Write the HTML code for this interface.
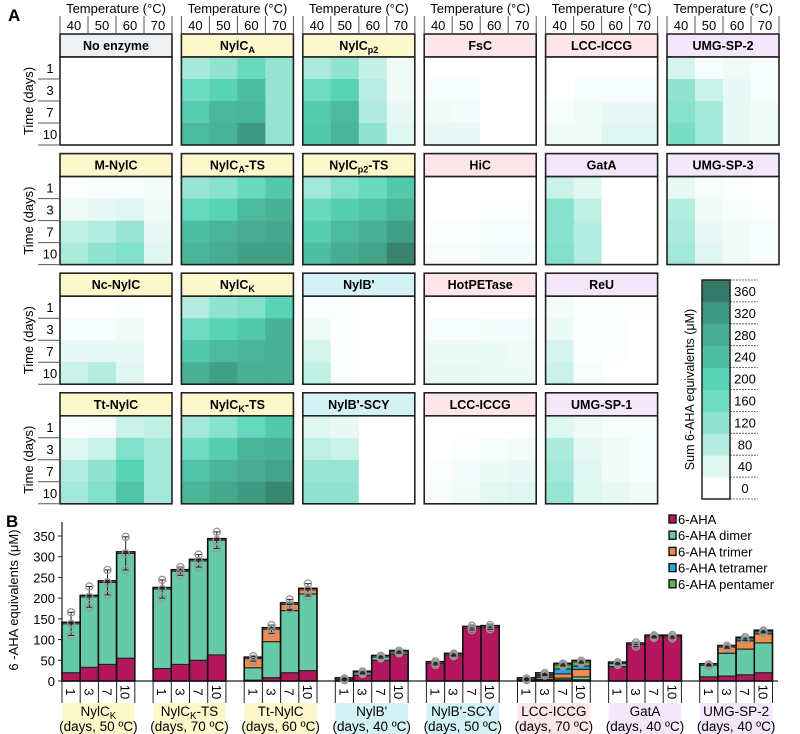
<!DOCTYPE html>
<html><head><meta charset="utf-8">
<style>
html,body{margin:0;padding:0;background:#fff;}
svg{display:block;font-family:"Liberation Sans",Arial,sans-serif;}
</style></head>
<body>
<svg id="fig" width="800" height="734" viewBox="0 0 800 734" xmlns="http://www.w3.org/2000/svg">
<text x="8" y="21" font-size="17" font-weight="bold">A</text>
<text x="6" y="527" font-size="17" font-weight="bold">B</text>
</svg>
<script>
// ---------- Heatmap data ----------
const temps = ["40","50","60","70"];
const days = ["1","3","7","10"];
const panelNames = [
 ["No enzyme","",""],["NylC","A",""],["NylC","p2",""],["FsC","",""],["LCC-ICCG","",""],["UMG-SP-2","",""],
 ["M-NylC","",""],["NylC","A","-TS"],["NylC","p2","-TS"],["HiC","",""],["GatA","",""],["UMG-SP-3","",""],
 ["Nc-NylC","",""],["NylC","K",""],["NylB'","",""],["HotPETase","",""],["ReU","",""],
 ["Tt-NylC","",""],["NylC","K","-TS"],["NylB'-SCY","",""],["LCC-ICCG","",""],["UMG-SP-1","",""]
];
const panelRow = [0,0,0,0,0,0, 1,1,1,1,1,1, 2,2,2,2,2, 3,3,3,3,3];
const panelCol = [0,1,2,3,4,5, 0,1,2,3,4,5, 0,1,2,3,4, 0,1,2,3,4];
const panelGroup = ["grey","yellow","yellow","pink","pink","purple",
 "yellow","yellow","yellow","pink","purple","purple",
 "yellow","yellow","cyan","pink","purple",
 "yellow","yellow","cyan","pink","purple"];
const panelValues = [
 [[0,0,0,0],[0,0,0,0],[0,0,0,0],[0,0,0,0]],
 [[95,120,170,115],[165,200,245,115],[210,255,260,115],[250,265,320,115]],
 [[90,120,65,20],[160,200,75,20],[215,250,85,30],[220,260,120,40]],
 [[0,0,0,0],[10,10,0,0],[20,15,0,0],[30,30,0,0]],
 [[0,0,0,0],[0,10,10,10],[10,20,30,30],[20,20,40,40]],
 [[50,10,20,10],[120,60,30,10],[130,100,30,20],[150,100,30,20]],
 [[5,10,10,15],[20,30,40,20],[70,80,110,30],[90,120,140,40]],
 [[110,130,170,220],[180,200,250,270],[240,260,280,290],[260,280,310,310]],
 [[100,140,170,220],[170,210,230,260],[210,250,270,310],[240,280,300,350]],
 [[0,0,0,0],[0,0,5,5],[5,5,10,10],[10,10,15,15]],
 [[60,40,0,0],[130,70,0,0],[130,80,0,0],[140,80,0,0]],
 [[30,10,5,0],[80,20,10,5],[90,30,20,10],[100,40,20,10]],
 [[0,0,5,0],[10,10,20,0],[30,30,30,0],[60,80,40,0]],
 [[80,120,140,200],[160,200,220,270],[220,250,260,270],[270,310,270,270]],
 [[5,5,0,0],[20,5,0,0],[50,5,0,0],[70,5,0,0]],
 [[0,0,0,0],[10,10,15,15],[25,25,25,20],[30,30,25,25]],
 [[15,5,5,5],[25,5,5,0],[50,5,5,0],[60,10,0,0]],
 [[5,10,60,70],[40,60,140,100],[80,120,200,100],[100,140,230,100]],
 [[100,130,180,220],[160,210,260,270],[230,260,280,300],[260,290,320,345]],
 [[40,30,0,0],[70,60,0,0],[110,110,0,0],[120,120,0,0]],
 [[0,0,0,0],[0,5,10,15],[5,15,25,30],[10,20,35,40]],
 [[40,20,10,10],[90,30,20,10],[100,40,20,10],[110,40,30,20]]
];
const cbTicks = [0,40,80,120,160,200,240,280,320,360];
const cbColors = ["#ffffff","#e0f7f1","#b5ece0","#90e3cf","#6fdcc2","#57d3b6","#4dbfa0","#47ac90","#3f9a81","#357a68"];

// ---------- Bar chart data ----------
const groupLabels = [["NylC","K","","(days, 50 ºC)"],["NylC","K","-TS","(days, 70 ºC)"],["Tt-NylC","","","(days, 60 ºC)"],["NylB'","","","(days, 40 ºC)"],["NylB'-SCY","","","(days, 50 ºC)"],["LCC-ICCG","","","(days, 70 ºC)"],["GatA","","","(days, 40 ºC)"],["UMG-SP-2","","","(days, 40 ºC)"]];
const groupColor = ["yellow","yellow","yellow","cyan","cyan","pink","purple","purple"];
const barDays = ["1","3","7","10"];
const ahaVals      = [[20,33,40,55],[30,40,50,63],[2,8,20,25],[4,14,50,65],[43,63,128,130],[2,2,3,3],[35,88,107,107],[10,12,15,20]];
const dimerVals    = [[118,170,198,253],[192,225,240,277],[30,87,150,185],[0,6,8,5],[0,0,0,0],[1,2,4,7],[7,0,0,0],[28,55,62,72]];
const trimerVals   = [[0,0,0,0],[0,0,0,0],[22,30,15,10],[0,0,0,0],[0,0,0,0],[1,5,10,18],[0,0,0,0],[0,15,20,22]];
const tetramerVals = [[0,0,0,0],[0,0,0,0],[0,0,0,0],[0,0,0,0],[0,0,0,0],[0,4,12,8],[0,0,0,0],[0,0,5,5]];
const pentamerVals = [[0,0,0,0],[0,0,0,0],[0,0,0,0],[0,0,0,0],[0,0,0,0],[0,3,10,10],[0,0,0,0],[0,0,0,0]];
const errVals      = [[28,25,30,40],[22,10,15,20],[6,10,12,15],[2,3,3,3],[4,3,5,5],[2,3,3,3],[3,5,3,4],[2,3,4,3]];
const seriesNames = ["6-AHA","6-AHA dimer","6-AHA trimer","6-AHA tetramer","6-AHA pentamer"];
const seriesColors = ["#b5175e","#66c9a8","#f58a4b","#22a7e0","#6ab04c"];
const yTicks = [0,50,100,150,200,250,300,350];

const hdrFill = {grey:"#eef1f3",yellow:"#fdf8cc",pink:"#fde6ea",purple:"#f4e7fb",cyan:"#d3f2f7"};
const NS = "http://www.w3.org/2000/svg";
const svg = document.getElementById("fig");
function mk(tag, attrs, parent){const e=document.createElementNS(NS,tag);for(const k in attrs)e.setAttribute(k,attrs[k]);(parent||svg).appendChild(e);return e;}
function hex2rgb(h){return [parseInt(h.slice(1,3),16),parseInt(h.slice(3,5),16),parseInt(h.slice(5,7),16)];}
function colorFor(v){
  const t=Math.max(0,Math.min(360,v))/40;const i=Math.min(8,Math.floor(t));const f=t-i;
  const a=hex2rgb(cbColors[i]),b=hex2rgb(cbColors[i+1]);
  return "rgb("+a.map((x,k)=>Math.round(x+(b[k]-x)*f)).join(",")+")";
}
function labelText(parent, x, y, parts, size, weight, anchor){
  const t=mk("text",{x:x,y:y,"font-size":size,"font-weight":weight,"text-anchor":anchor||"middle"},parent);
  t.appendChild(document.createTextNode(parts[0]));
  if(parts[1]){const s=mk("tspan",{"font-size":size*0.72,dy:3},t);s.textContent=parts[1];}
  if(parts[2]){const s=mk("tspan",{dy:-3},t);s.textContent=parts[2];}
  return t;
}

// ---------- Heatmap panels ----------
const colX = c=>60+c*121.4;
const rowY = r=>34+r*119.6;
const cellW=28, cellH=22, hdrH=23;
panelNames.forEach((nm,p)=>{
  const r=panelRow[p], c=panelCol[p];
  const x0=colX(c), y0=rowY(r);
  const g=mk("g",{});
  
  
  const hdr=mk("rect",{x:x0,y:y0,width:cellW*4,height:hdrH,fill:hdrFill[panelGroup[p]],stroke:"#222","stroke-width":1.6},g);
  
  
  const ht=labelText(g,x0+cellW*2,y0+16,nm,12.5,"bold");
  
  
  panelValues[p].forEach((row,ri)=>row.forEach((v,ci)=>{
    const cell=mk("rect",{x:x0+ci*cellW,y:y0+hdrH+ri*cellH,width:cellW+0.5,height:cellH+0.5,fill:colorFor(v)},g);
    
    
  }));
  const fr=mk("rect",{x:x0,y:y0+hdrH,width:cellW*4,height:cellH*4,fill:"none",stroke:"#222","stroke-width":1.6},g);
  
  
  if(r===0){
    const tt=mk("text",{x:x0+cellW*2,y:13,"font-size":13,"text-anchor":"middle"},g);
    tt.textContent="Temperature (°C)";
    
    
    for(let k=0;k<=4;k++){
      const l=mk("line",{x1:x0+k*cellW,y1:16,x2:x0+k*cellW,y2:y0,stroke:"#555","stroke-width":1},g);
      
      
    }
    temps.forEach((t,k)=>{
      const tl=mk("text",{x:x0+k*cellW+cellW/2,y:30,"font-size":13,"text-anchor":"middle"},g);
      tl.textContent=t;
      
      
    });
  }
  if(c===0){
    const yt=mk("text",{x:0,y:0,"font-size":13,"text-anchor":"middle",transform:"translate(33,"+(y0+hdrH+cellH*2)+") rotate(-90)"},g);
    yt.textContent="Time (days)";
    
    
    for(let k=1;k<=4;k++){
      const l=mk("line",{x1:38,y1:y0+hdrH+k*cellH,x2:x0,y2:y0+hdrH+k*cellH,stroke:"#555","stroke-width":1},g);
      
      
    }
    days.forEach((d,k)=>{
      const tl=mk("text",{x:50,y:y0+hdrH+k*cellH+16,"font-size":13,"text-anchor":"middle"},g);
      tl.textContent=d;
      
      
    });
  }
});

// ---------- Colorbar ----------
const cbX=702, cbTop=280, cbBand=21.9;
cbTicks.forEach((t,i)=>{
  const y=cbTop+(cbTicks.length-1-i)*cbBand;
  const b=mk("rect",{x:cbX,y:y,width:28,height:cbBand+0.4,fill:cbColors[i]});
  
  
  const tl=mk("text",{x:745,y:y+16,"font-size":13,"text-anchor":"middle"});
  tl.textContent=String(t);
  
  
  const dl=mk("line",{x1:730,y1:y,x2:758,y2:y,stroke:"#444","stroke-width":0.8,"stroke-dasharray":"2,1"});
  
  
});
const dlb=mk("line",{x1:730,y1:cbTop+10*cbBand,x2:758,y2:cbTop+10*cbBand,stroke:"#444","stroke-width":0.8,"stroke-dasharray":"2,1"});


const cbf=mk("rect",{x:cbX,y:cbTop,width:28,height:cbBand*10,fill:"none",stroke:"#222","stroke-width":1.5});


const cbt=mk("text",{x:0,y:0,"font-size":12.5,"text-anchor":"middle",transform:"translate(694,"+(cbTop+cbBand*5)+") rotate(-90)"});
cbt.textContent="Sum 6-AHA equivalents (μM)";



// ---------- Bar chart ----------
const y0px=681, pxPerUnit=145/350;
const yS=v=>y0px-v*pxPerUnit;
const gX=g=>62+g*91.1;
const bw=18.2;
const yAx=mk("line",{x1:62,y1:y0px,x2:62,y2:522,stroke:"#222","stroke-width":1.2});


const xAx=mk("line",{x1:62,y1:y0px,x2:778,y2:y0px,stroke:"#222","stroke-width":1.2});


yTicks.forEach(t=>{
  const tk=mk("line",{x1:58,y1:yS(t),x2:62,y2:yS(t),stroke:"#222","stroke-width":1});
  
  
  const tl=mk("text",{x:55,y:yS(t)+5,"font-size":13,"text-anchor":"end"});
  tl.textContent=String(t);
  
  
});
const byt=mk("text",{x:0,y:0,"font-size":13,"text-anchor":"middle",transform:"translate(18,600) rotate(-90)"});
byt.textContent="6 -AHA equivalents (μM)";



const series=[ahaVals,dimerVals,trimerVals,tetramerVals,pentamerVals];
groupLabels.forEach((gl,g)=>{
  const gx=gX(g);
  barDays.forEach((d,b)=>{
    const x=gx+b*bw;
    let cum=0;
    series.forEach((s,si)=>{
      const v=s[g][b];
      if(v<=0)return;
      const seg=mk("rect",{x:x,y:yS(cum+v),width:bw,height:v*pxPerUnit,fill:seriesColors[si],stroke:"#222","stroke-width":1.1});
      
      
      cum+=v;
    });
    const outl=mk("rect",{x:x,y:yS(cum)-1.5,width:bw,height:cum*pxPerUnit+1.5,fill:"none",stroke:"#111","stroke-width":1.6});
    
    
    const e=errVals[g][b], cx=x+bw/2;
    const el=mk("line",{x1:cx,y1:yS(cum+e),x2:cx,y2:yS(cum-e),stroke:"#222","stroke-width":1});
    
    
    [cum+e,cum,cum-e].forEach(pv=>{
      const cap=mk("line",{x1:cx-3,y1:yS(pv),x2:cx+3,y2:yS(pv),stroke:"#222","stroke-width":1});
      
      
      const pt=mk("circle",{cx:cx,cy:yS(pv),r:3.6,fill:"none",stroke:"#999","stroke-width":1.3});
      
      
    });
    const dv=mk("line",{x1:x,y1:y0px,x2:x,y2:703,stroke:"#222","stroke-width":1});
    
    
    const dt=mk("text",{x:0,y:0,"font-size":13,"text-anchor":"middle",transform:"translate("+(x+bw/2-5)+",692) rotate(90)"});
    dt.textContent=d;
    
    
  });
  const dvr=mk("line",{x1:gx+4*bw,y1:y0px,x2:gx+4*bw,y2:703,stroke:"#222","stroke-width":1});
  
  
  const lb=mk("rect",{x:gx,y:703,width:bw*4,height:31,rx:4,fill:hdrFill[groupColor[g]]});
  
  
  const t1=labelText(svg,gx+bw*2,716,[gl[0],gl[1],gl[2]],13.5,"normal");
  
  
  const t2=mk("text",{x:gx+bw*2,y:731,"font-size":13.5,"text-anchor":"middle"});
  t2.textContent=gl[3];
  
  
});

// legend
seriesNames.forEach((n,i)=>{
  const y=524+i*16.2;
  const sw=mk("rect",{x:669,y:y-9,width:7,height:8,fill:seriesColors[i],stroke:"#111","stroke-width":1.4});
  
  
  const lt=mk("text",{x:678,y:y,"font-size":13});
  lt.textContent=n;
  
  
});
</script>
</body></html>
